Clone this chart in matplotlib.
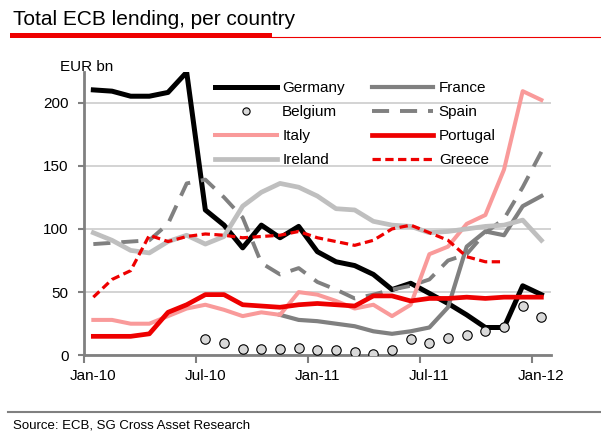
import numpy as np
import matplotlib
matplotlib.use("Agg")
from matplotlib import pyplot as plt
from matplotlib.lines import Line2D
from matplotlib.patches import Rectangle

plt.rcParams['font.family'] = ['Liberation Sans', 'DejaVu Sans']

# Data (EUR bn), monthly Jan-10 .. Jan-12
months = ['Jan-10', 'Feb-10', 'Mar-10', 'Apr-10', 'May-10', 'Jun-10',
          'Jul-10', 'Aug-10', 'Sep-10', 'Oct-10', 'Nov-10', 'Dec-10',
          'Jan-11', 'Feb-11', 'Mar-11', 'Apr-11', 'May-11', 'Jun-11',
          'Jul-11', 'Aug-11', 'Sep-11', 'Oct-11', 'Nov-11', 'Dec-11',
          'Jan-12']
nan = np.nan
germany = [210, 209, 205, 205, 208, 224, 115, 103, 85, 103, 93, 102, 82,
           74, 71, 64, 52, 57, 49, 41, 32, 22, 22, 55, 48]
france = [nan] * 10 + [32, 28, 27, 25, 23, 19, 17, 19, 22, 38, 86, 98, 95,
                       118, 126]
belgium = [nan] * 6 + [13, 10, 5, 5, 5, 6, 4, 4, 3, 1, 4, 13, 10, 14, 16,
                       19, 22, 39, 30]
spain = [88, 89, 90, 91, 104, 136, 139, 125, 109, 73, 64, 69, 58, 52, 45,
         48, 52, 55, 60, 75, 80, 97, 108, 133, 161]
italy = [28, 28, 25, 25, 31, 37, 40, 36, 31, 34, 32, 50, 48, 43, 37, 40,
         31, 40, 80, 86, 104, 111, 147, 209, 202]
portugal = [15, 15, 15, 17, 34, 40, 48, 48, 40, 39, 38, 40, 41, 40, 39, 47,
            47, 43, 45, 45, 46, 45, 46, 46, 46]
ireland = [97, 91, 83, 81, 90, 95, 88, 94, 118, 129, 136, 133, 126, 116,
           115, 106, 103, 102, 97, 98, 100, 102, 103, 107, 91]
greece = [46, 60, 67, 95, 90, 94, 96, 95, 93, 94, 95, 98, 93, 90, 87, 91,
          100, 103, 97, 91, 78, 74, 74, nan, nan]

x = np.arange(len(months)) + 0.5

fig = plt.figure(figsize=(6.01, 4.38), dpi=100)
ax = fig.add_axes([84 / 601, 1 - 355.3 / 438, (550.7 - 84) / 601,
                   (355.3 - 72.2) / 438])

l_ger, = ax.plot(x, germany, color='black', lw=3.6, label='Germany', zorder=3)
l_fra, = ax.plot(x, france, color='#808080', lw=3.0, label='France', zorder=3)
l_spa, = ax.plot(x, spain, color='#808080', lw=2.8, ls=(0, (4.4, 2.8)),
                 label='Spain', zorder=3)
l_ita, = ax.plot(x, italy, color='#f99a9a', lw=2.9, label='Italy', zorder=3)
l_por, = ax.plot(x, portugal, color='#ee0000', lw=3.4, label='Portugal',
                 zorder=3)
l_ire, = ax.plot(x, ireland, color='#bfbfbf', lw=3.4, label='Ireland',
                 zorder=3)
l_gre, = ax.plot(x, greece, color='#ee0000', lw=2.3, ls=(0, (2.6, 1.4)),
                 label='Greece', zorder=3)
ax.plot(x, belgium, ls='none', marker='o', ms=6.8, mfc='#d9d9d9',
        mec='black', mew=0.8, zorder=4)
l_bel = Line2D([], [], ls='none', marker='o', ms=5.2, mfc='#d9d9d9',
               mec='black', mew=0.8)

ax.set_xlim(0, len(months))
ax.set_ylim(0, 224)

ax.set_xticks(np.arange(0, len(months), 6))
ax.set_xticklabels([])
ax.set_xticks(x[::6], minor=True)
ax.set_xticklabels(months[::6], minor=True)
ax.tick_params(axis='x', which='major', length=6, width=1.5, color='#808080',
               direction='out')
ax.tick_params(axis='x', which='minor', length=0, pad=10, labelsize=11)

ax.set_yticks([0, 50, 100, 150, 200])
ax.tick_params(axis='y', length=4, width=1.5, color='#808080', pad=7,
               labelsize=11)

ax.yaxis.grid(True, color='#cccccc', lw=1.2)
ax.set_axisbelow(True)
for s in ['top', 'right']:
    ax.spines[s].set_visible(False)
for s in ['left', 'bottom']:
    ax.spines[s].set_color('#808080')
    ax.spines[s].set_linewidth(2)

handles = [l_ger, l_bel, l_ita, l_ire, l_fra, l_spa, l_por, l_gre]
labels = ['Germany', 'Belgium', 'Italy', 'Ireland',
          'France', 'Spain', 'Portugal', 'Greece']
ax.legend(handles, labels, ncol=2, loc='upper left',
          bbox_to_anchor=(215 / 601, 1 - 81 / 438),
          bbox_transform=fig.transFigure, frameon=False, fontsize=11,
          handlelength=4.05, handletextpad=0.35, columnspacing=1.75,
          labelspacing=0.66, borderpad=0, borderaxespad=0)

fig.text(60 / 601, 1 - 67 / 438, 'EUR bn', fontsize=11, va='center',
         ha='left')

# title and rules
fig.text(13 / 601, 1 - 25 / 438, 'Total ECB lending, per country',
         fontsize=15, va='baseline', ha='left')
fig.add_artist(Rectangle((10 / 601, 1 - 37.5 / 438), 262 / 601, 4.3 / 438,
                         transform=fig.transFigure, color='#ee0000', lw=0))
fig.add_artist(Line2D([272 / 601, 1], [1 - 37 / 438, 1 - 37 / 438],
                      transform=fig.transFigure, color='#ee0000', lw=0.8))
fig.add_artist(Line2D([8 / 601, 1], [1 - 412 / 438, 1 - 412 / 438],
                      transform=fig.transFigure, color='#808080', lw=1.5))
fig.text(13 / 601, 1 - 426 / 438, 'Source: ECB, SG Cross Asset Research',
         fontsize=9.5, va='center', ha='left')

fig.savefig('out.png', dpi=100)
